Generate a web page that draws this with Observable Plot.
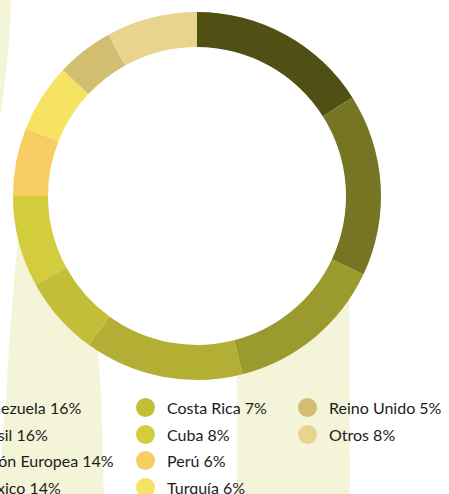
<!DOCTYPE html>
<html>
<head>
<meta charset="utf-8">
<script src="https://cdn.jsdelivr.net/npm/d3@7"></script>
<script src="https://cdn.jsdelivr.net/npm/@observablehq/plot@0.6"></script>
<style>
  html, body { margin: 0; padding: 0; background: #ffffff; }
  #wrap { position: relative; width: 449px; height: 494px; overflow: hidden; font-family: Lato, "Open Sans", sans-serif; }
  #bg { position: absolute; left: 0; top: 0; z-index: 0; }
  #chart { position: absolute; left: 0; top: 0; z-index: 1; }
  #legend { position: absolute; left: 0; top: 394px; width: 449px; height: 100px; z-index: 2; }
  .col { position: absolute; top: 0; }
  .item { display: flex; align-items: center; height: 26.7px; white-space: nowrap; font-size: 16px; color: #1c1c1c; }
  .dot { width: 19px; height: 19px; border-radius: 50%; margin-right: 12px; flex: none; }
</style>
</head>
<body>
<div id="wrap">
  <svg id="bg" width="449" height="494">
    <g fill="#f4f4d9">
      <path d="M0,0 L11,0 C10,40 6,80 0,116 Z"/>
      <path d="M18,240 L50,240 C70,280 90,320 97,343 C100,370 102,400 104,494 L0,494 L0,470 C3,440 5,410 6,400 C9,340 14,280 18,240 Z"/>
      <path d="M237,350 L349,280 L350,494 L237,494 Z"/>
    </g>
  </svg>
  <div id="chart"></div>
  <div id="legend"></div>
</div>
<script>
const paises = ["Venezuela", "Brasil", "Unión Europea", "México", "Costa Rica", "Cuba", "Perú", "Turquía", "Reino Unido", "Otros"];
const porcentajes = [16, 16, 14, 14, 7, 8, 6, 6, 5, 8];
const colores = ["#504f14", "#757523", "#9b9a2e", "#b2af34", "#c4bd38", "#d3cc3c", "#f8cd63", "#f6e362", "#d2be70", "#e8d48c"];

const datos = paises.map((p, i) => ({pais: p, valor: porcentajes[i]}));
const fin = d3.cumsum(porcentajes);
const total = d3.sum(porcentajes);

const color = Plot.scale({color: {type: "ordinal", domain: paises, range: colores}});
const angulo = Plot.scale({x: {type: "linear", domain: [0, total], range: [0, 2 * Math.PI]}});

function donut(index, scales, values, dims) {
  const {width, height, marginLeft, marginRight, marginTop, marginBottom} = dims;
  const w = width - marginLeft - marginRight;
  const h = height - marginTop - marginBottom;
  const r = Math.min(w, h) / 2;
  const cx = marginLeft + w / 2;
  const cy = marginTop + h / 2;
  const arc = d3.arc().innerRadius(r * 149 / 184).outerRadius(r);
  const g = d3.create("svg:g").attr("transform", `translate(${cx},${cy})`);
  g.selectAll("path")
    .data(datos)
    .join("path")
    .attr("fill", d => color.apply(d.pais))
    .attr("d", (d, i) => arc({startAngle: angulo.apply(fin[i] - d.valor), endAngle: angulo.apply(fin[i])}));
  return g.node();
}

const plot = Plot.plot({
  width: 449,
  height: 392,
  marginLeft: 13,
  marginRight: 68,
  marginTop: 12,
  marginBottom: 12,
  style: {background: "transparent"},
  marks: [donut]
});
document.getElementById("chart").appendChild(plot);

// Legend (HTML, below the SVG)
const legend = d3.select("#legend");
const colLeft = [-57, 136, 298];
const perCol = 4;
colLeft.forEach((left, c) => {
  const col = legend.append("div").attr("class", "col").style("left", left + "px");
  datos.slice(c * perCol, c * perCol + perCol).forEach(d => {
    const it = col.append("div").attr("class", "item");
    it.append("span").attr("class", "dot").style("background", color.apply(d.pais));
    it.append("span").text(`${d.pais} ${d.valor}%`);
  });
});
</script>
</body>
</html>
